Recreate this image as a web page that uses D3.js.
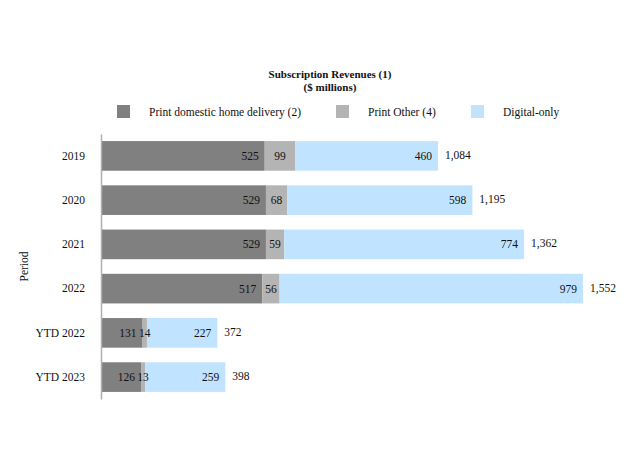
<!DOCTYPE html>
<html>
<head>
<meta charset="utf-8">
<script src="https://cdn.jsdelivr.net/npm/d3@7"></script>
<style>
  body { margin: 0; background: #fff; }
  text { font-family: "Liberation Serif", "Times New Roman", serif; font-size: 11.5px; fill: #111; }
</style>
</head>
<body>
<div id="chart"></div>
<script>
const periods = ["2019", "2020", "2021", "2022", "YTD 2022", "YTD 2023"];
const printHome = [525, 529, 529, 517, 131, 126];
const printOther = [99, 68, 59, 56, 14, 13];
const digitalOnly = [460, 598, 774, 979, 227, 259];
const totals = [1084, 1195, 1362, 1552, 372, 398];

const seriesNames = ["Print domestic home delivery (2)", "Print Other (4)", "Digital-only"];
const colors = ["#808080", "#b4b4b4", "#c0e4ff"];

const width = 630, height = 468;
const margin = { left: 102, top: 134, bottom: 69 };

const svg = d3.select("#chart").append("svg")
    .attr("width", width)
    .attr("height", height);

// stacked rows built from the arrays
const rows = periods.map((p, i) => ({ period: p, home: printHome[i], other: printOther[i], digital: digitalOnly[i], total: totals[i] }));
const stack = d3.stack().keys(["home", "other", "digital"])(rows);

const x = d3.scaleLinear().domain([0, 1552]).range([margin.left, margin.left + 481]);
const y = d3.scaleBand().domain(periods).range([margin.top, height - margin.bottom]).paddingInner(0.33).paddingOuter(0.16);

// title
svg.append("text").attr("x", 330).attr("y", 78).attr("text-anchor", "middle")
    .style("font-weight", "bold").style("font-size", "11px").text("Subscription Revenues (1)");
svg.append("text").attr("x", 330).attr("y", 91).attr("text-anchor", "middle")
    .style("font-weight", "bold").style("font-size", "11px").text("($ millions)");

// legend
const legendX = [117, 336, 471];
const legend = svg.selectAll(".legend")
    .data(seriesNames)
    .enter().append("g")
    .attr("class", "legend")
    .attr("transform", (d, i) => "translate(" + legendX[i] + ",105)");
legend.append("rect").attr("width", 13).attr("height", 13).attr("fill", (d, i) => colors[i]);
legend.append("text").attr("x", 32).attr("y", 10.5).text(d => d);

// bars
const layers = svg.selectAll(".layer")
    .data(stack)
    .enter().append("g")
    .attr("class", "layer")
    .attr("fill", (d, i) => colors[i]);

layers.selectAll("rect")
    .data(d => d)
    .enter().append("rect")
    .attr("x", d => x(d[0]))
    .attr("y", d => y(d.data.period))
    .attr("width", d => x(d[1]) - x(d[0]))
    .attr("height", y.bandwidth());

// segment labels
stack.forEach((layer, k) => {
    svg.selectAll(".lbl" + k)
        .data(layer)
        .enter().append("text")
        .attr("class", "lbl" + k)
        .attr("x", d => k === 1 ? (x(d[0]) + x(d[1])) / 2 : x(d[1]) - 6)
        .attr("y", d => y(d.data.period) + y.bandwidth() / 2 + 4)
        .attr("text-anchor", k === 1 ? "middle" : "end")
        .text(d => d[1] - d[0]);
});

// totals
svg.selectAll(".total")
    .data(rows)
    .enter().append("text")
    .attr("class", "total")
    .attr("x", d => x(d.total) + 7)
    .attr("y", d => y(d.period) + y.bandwidth() / 2 + 3)
    .text(d => d3.format(",")(d.total));

// y axis
const yAxis = svg.append("g")
    .attr("transform", "translate(" + (margin.left - 1) + ",0)")
    .call(d3.axisLeft(y).tickSize(0).tickPadding(16));
yAxis.select(".domain").attr("stroke", "#b0b0b0").attr("stroke-width", 1.5);
yAxis.selectAll("text").style("font-family", "\"Liberation Serif\", \"Times New Roman\", serif").style("font-size", "11.5px").attr("fill", "#111");

svg.append("text")
    .attr("transform", "translate(28," + ((margin.top + height - margin.bottom) / 2) + ") rotate(-90)")
    .attr("text-anchor", "middle")
    .text("Period");
</script>
</body>
</html>
